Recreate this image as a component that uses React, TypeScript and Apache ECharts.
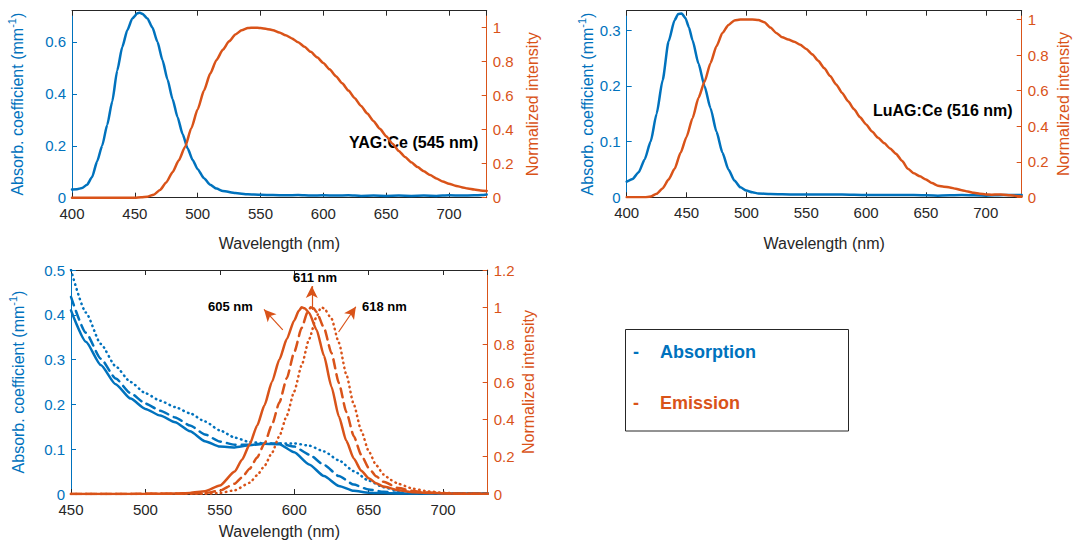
import React, { useEffect, useRef } from "react";
import * as echarts from "echarts";

const BLUE = "#0072BD";
const ORANGE = "#D95319";
const AX = "#262626";
const FONT = "'Liberation Sans', Arial, Helvetica, sans-serif";

// ---------- YAG:Ce (top left) ----------
const yagAbsWl = [400, 404, 408, 412, 416, 420, 424, 428, 432, 436, 440, 444, 448, 452, 454, 456, 460, 464, 468, 472, 476, 480, 484, 488, 492, 496, 500, 505, 510, 515, 520, 530, 540, 550, 560, 570, 580, 590, 600, 610, 620, 630, 640, 650, 660, 670, 680, 690, 700, 710, 720, 726, 730];
const yagAbs = [0.032, 0.033, 0.037, 0.05, 0.08, 0.14, 0.2, 0.28, 0.37, 0.49, 0.58, 0.645, 0.69, 0.71, 0.712, 0.708, 0.69, 0.655, 0.6, 0.53, 0.455, 0.38, 0.31, 0.245, 0.19, 0.145, 0.11, 0.075, 0.05, 0.035, 0.026, 0.018, 0.013, 0.011, 0.01, 0.009, 0.01, 0.008, 0.009, 0.008, 0.009, 0.007, 0.008, 0.007, 0.008, 0.007, 0.008, 0.007, 0.009, 0.008, 0.009, 0.01, 0.012];
const yagEmWl = [400, 450, 455, 460, 465, 470, 475, 480, 485, 490, 495, 500, 505, 510, 515, 520, 525, 530, 535, 540, 545, 550, 555, 560, 565, 570, 575, 580, 585, 590, 595, 600, 605, 610, 615, 620, 625, 630, 635, 640, 645, 650, 655, 660, 665, 670, 675, 680, 685, 690, 695, 700, 705, 710, 715, 720, 725, 730];
const yagEm = [0, 0, 0.002, 0.006, 0.018, 0.045, 0.09, 0.15, 0.22, 0.3, 0.41, 0.52, 0.63, 0.73, 0.81, 0.87, 0.92, 0.96, 0.985, 0.998, 1.0, 0.998, 0.993, 0.985, 0.972, 0.956, 0.937, 0.914, 0.888, 0.858, 0.826, 0.792, 0.755, 0.715, 0.673, 0.63, 0.585, 0.54, 0.495, 0.45, 0.405, 0.362, 0.318, 0.275, 0.24, 0.208, 0.18, 0.155, 0.133, 0.113, 0.095, 0.082, 0.071, 0.062, 0.054, 0.048, 0.043, 0.04];

// ---------- LuAG:Ce (top right) ----------
const luAbsWl = [400, 405, 410, 415, 420, 425, 430, 435, 440, 443, 446, 449, 452, 455, 460, 465, 470, 475, 480, 485, 490, 495, 500, 505, 510, 520, 540, 560, 580, 600, 620, 640, 660, 680, 700, 715, 730];
const luAbs = [0.028, 0.033, 0.045, 0.068, 0.1, 0.15, 0.21, 0.28, 0.318, 0.329, 0.33, 0.322, 0.305, 0.282, 0.24, 0.2, 0.16, 0.118, 0.08, 0.05, 0.03, 0.018, 0.012, 0.009, 0.007, 0.006, 0.005, 0.005, 0.005, 0.004, 0.004, 0.004, 0.003, 0.004, 0.003, 0.004, 0.004];
const luEmWl = [400, 415, 420, 425, 430, 435, 440, 445, 450, 455, 460, 465, 470, 475, 480, 485, 490, 495, 505, 510, 515, 520, 525, 530, 535, 540, 545, 550, 555, 560, 565, 570, 575, 580, 585, 590, 595, 600, 605, 610, 615, 620, 625, 630, 635, 640, 645, 650, 655, 660, 665, 670, 675, 680, 685, 690, 695, 700, 705, 710, 715, 720, 725, 730];
const luEm = [0, 0, 0.004, 0.02, 0.05, 0.1, 0.16, 0.25, 0.34, 0.445, 0.56, 0.65, 0.755, 0.85, 0.925, 0.97, 0.995, 1.0, 1.0, 0.998, 0.985, 0.955, 0.925, 0.9, 0.888, 0.875, 0.858, 0.835, 0.805, 0.768, 0.727, 0.682, 0.635, 0.587, 0.54, 0.495, 0.45, 0.41, 0.37, 0.335, 0.305, 0.275, 0.245, 0.205, 0.16, 0.135, 0.118, 0.1, 0.08, 0.065, 0.06, 0.055, 0.048, 0.04, 0.032, 0.025, 0.02, 0.016, 0.015, 0.016, 0.015, 0.012, 0.008, 0.004];

// ---------- Red phosphors (bottom) ----------
const redAbsWl = [450, 460, 470, 480, 490, 500, 510, 520, 530, 540, 550, 560, 570, 580, 590, 600, 610, 620, 630, 640, 650, 660, 670, 680, 690, 700, 710, 720, 730];
const absSolid = [0.41, 0.34, 0.288, 0.245, 0.213, 0.19, 0.175, 0.16, 0.14, 0.118, 0.106, 0.104, 0.109, 0.112, 0.111, 0.093, 0.066, 0.04, 0.018, 0.007, 0.003, 0.002, 0.001, 0.001, 0.001, 0.001, 0.001, 0.001, 0.001];
const absDashed = [0.44, 0.36, 0.302, 0.258, 0.225, 0.202, 0.186, 0.171, 0.153, 0.133, 0.117, 0.11, 0.11, 0.113, 0.113, 0.106, 0.088, 0.065, 0.04, 0.021, 0.01, 0.005, 0.003, 0.002, 0.001, 0.001, 0.001, 0.001, 0.001];
const absDotted = [0.5, 0.405, 0.335, 0.285, 0.25, 0.225, 0.208, 0.194, 0.18, 0.162, 0.142, 0.126, 0.116, 0.113, 0.113, 0.113, 0.108, 0.095, 0.075, 0.051, 0.03, 0.015, 0.007, 0.003, 0.002, 0.001, 0.001, 0.001, 0.001];

const em605Wl = [450, 500, 520, 530, 540, 550, 560, 565, 570, 575, 580, 585, 590, 595, 600, 603, 605, 607, 610, 615, 620, 625, 630, 635, 640, 645, 650, 655, 660, 670, 680, 690, 700, 710, 730];
const em605 = [0, 0.001, 0.003, 0.006, 0.015, 0.045, 0.12, 0.185, 0.265, 0.365, 0.475, 0.6, 0.72, 0.83, 0.93, 0.98, 1.0, 0.995, 0.97, 0.88, 0.74, 0.575, 0.415, 0.285, 0.19, 0.125, 0.085, 0.058, 0.04, 0.02, 0.01, 0.006, 0.004, 0.002, 0.001];
const em611Wl = [450, 520, 540, 550, 560, 565, 570, 575, 580, 585, 590, 595, 600, 605, 609, 611, 613, 615, 620, 625, 630, 635, 640, 645, 650, 655, 660, 670, 680, 690, 700, 710, 730];
const em611 = [0, 0.001, 0.005, 0.018, 0.055, 0.09, 0.135, 0.195, 0.27, 0.37, 0.49, 0.62, 0.76, 0.89, 0.975, 1.0, 0.995, 0.975, 0.89, 0.755, 0.595, 0.44, 0.31, 0.21, 0.14, 0.095, 0.065, 0.032, 0.016, 0.008, 0.004, 0.002, 0.001];
const em618Wl = [450, 540, 550, 560, 570, 575, 580, 585, 590, 595, 600, 605, 610, 615, 618, 620, 625, 630, 635, 640, 645, 650, 655, 660, 665, 670, 680, 690, 700, 710, 730];
const em618 = [0, 0.001, 0.005, 0.02, 0.06, 0.1, 0.15, 0.22, 0.31, 0.42, 0.55, 0.69, 0.83, 0.95, 1.0, 0.995, 0.94, 0.81, 0.64, 0.48, 0.34, 0.23, 0.155, 0.105, 0.075, 0.054, 0.028, 0.014, 0.007, 0.003, 0.001];

// peak arrows (data coordinates on the normalized-intensity axis)
const arrowFrom = [[592.3, 0.879], [611.8, 0.986], [629.8, 0.868]];
const arrowTo = [[579.7, 0.989], [611.8, 1.114], [641.4, 1.003]];
const peakLabels = ["605 nm", "611 nm", "618 nm"];
const sampleLabels = ["YAG:Ce (545 nm)", "LuAG:Ce (516 nm)"];
const legendLabels = ["Absorption", "Emission"];

const pairs = (xs: number[], ys: number[]) => xs.map((x, i) => [x, ys[i]]);

const absName = "{a|Absorb. coefficient (mm}{s|-1}{a|)}";

function xAxes(grid: number, min: number, max: number, nameGap: number) {
  return [
    {
      type: "value", gridIndex: grid, min, max, interval: 50, position: "bottom",
      axisLine: { show: true, onZero: false, lineStyle: { color: AX, width: 1 } },
      axisTick: { show: true, inside: true, length: 5, lineStyle: { color: AX } },
      axisLabel: { color: AX, fontSize: 15, fontFamily: FONT, margin: 8, showMaxLabel: false },
      splitLine: { show: false },
      name: "Wavelength (nm)", nameLocation: "middle", nameGap, nameMoveOverlap: false,
      nameTextStyle: { color: AX, fontSize: 16, fontFamily: FONT },
    },
    {
      type: "value", gridIndex: grid, min, max, interval: 50, position: "top",
      axisLine: { show: true, onZero: false, lineStyle: { color: AX, width: 1 } },
      axisTick: { show: true, inside: true, length: 5, lineStyle: { color: AX } },
      axisLabel: { show: false },
      splitLine: { show: false },
    },
  ];
}

function yAxes(grid: number, lmax: number, lint: number, rmax: number, rint: number,
  lGap: number, rGap: number, showMaxL: boolean, showMaxR: boolean) {
  return [
    {
      type: "value", gridIndex: grid, min: 0, max: lmax, interval: lint, position: "left",
      axisLine: { show: true, onZero: false, lineStyle: { color: BLUE, width: 1 } },
      axisTick: { show: true, inside: true, length: 5, lineStyle: { color: BLUE } },
      axisLabel: { color: BLUE, fontSize: 15, fontFamily: FONT, margin: 6, showMaxLabel: showMaxL },
      splitLine: { show: false },
      name: absName, nameLocation: "middle", nameGap: lGap, nameMoveOverlap: false,
      nameTextStyle: {
        color: BLUE, fontSize: 16, fontFamily: FONT,
        rich: {
          a: { color: BLUE, fontSize: 16, fontFamily: FONT, lineHeight: 22 },
          s: { color: BLUE, fontSize: 11, fontFamily: FONT, verticalAlign: "top", lineHeight: 12 },
        },
      },
    },
    {
      type: "value", gridIndex: grid, min: 0, max: rmax, interval: rint, position: "right",
      axisLine: { show: true, onZero: false, lineStyle: { color: ORANGE, width: 1 } },
      axisTick: { show: true, inside: true, length: 5, lineStyle: { color: ORANGE } },
      axisLabel: { color: ORANGE, fontSize: 15, fontFamily: FONT, margin: 6, showMaxLabel: showMaxR },
      splitLine: { show: false },
      name: "Normalized intensity", nameLocation: "middle", nameGap: rGap,
      nameTextStyle: { color: ORANGE, fontSize: 16, fontFamily: FONT },
    },
  ];
}

function line(data: number[][], color: string, xi: number, yi: number, type: any = "solid", extra: any = {}) {
  return {
    type: "line", data, xAxisIndex: xi, yAxisIndex: yi, showSymbol: false, symbol: "none",
    smooth: 0.2, smoothMonotone: "x", clip: true, silent: true,
    lineStyle: { color, width: 2.5, type, cap: "round" },
    ...extra,
  };
}

function boldText(text: string, x: number, y: number, size: number, fill: string) {
  return {
    type: "text", x, y, silent: true,
    style: { text, fill, font: `bold ${size}px ${FONT}`, align: "left", verticalAlign: "middle" },
  };
}

export default function App() {
  const ref = useRef<HTMLDivElement>(null);
  useEffect(() => {
    const chart = echarts.init(ref.current!, null, { renderer: "svg" });
    const option: any = {
      animation: false,
      backgroundColor: "#fff",
      textStyle: { fontFamily: FONT },
      grid: [
        { left: 72, top: 10.7, width: 414.7, height: 187, outerBoundsMode: "none" },
        { left: 626.7, top: 10.7, width: 395, height: 186.6, outerBoundsMode: "none" },
        { left: 71, top: 270, width: 416.7, height: 224, outerBoundsMode: "none" },
      ],
      xAxis: [...xAxes(0, 400, 730, 38), ...xAxes(1, 400, 730, 38), ...xAxes(2, 450, 730, 29)],
      yAxis: [
        ...yAxes(0, 0.72, 0.2, 1.1, 0.2, 44, 38, false, false),
        ...yAxes(1, 0.335, 0.1, 1.05, 0.2, 28, 34, false, false),
        ...yAxes(2, 0.5, 0.1, 1.2, 0.2, 42, 33, true, true),
      ],
      series: [
        line(pairs(yagAbsWl, yagAbs), BLUE, 0, 0),
        line(pairs(yagEmWl, yagEm), ORANGE, 0, 1),
        line(pairs(luAbsWl, luAbs), BLUE, 2, 2),
        line(pairs(luEmWl, luEm), ORANGE, 2, 3),
        line(pairs(redAbsWl, absSolid), BLUE, 4, 4),
        line(pairs(redAbsWl, absDashed), BLUE, 4, 4, [9, 6]),
        line(pairs(redAbsWl, absDotted), BLUE, 4, 4, [0.5, 4.5]),
        line(pairs(em605Wl, em605), ORANGE, 4, 5, "solid", {
          markLine: {
            silent: true, symbol: ["none", "arrow"], symbolSize: [9, 12], precision: 3,
            lineStyle: { color: ORANGE, width: 1.2, type: "solid" },
            label: { show: false },
            data: arrowFrom.map((f, i) => [{ coord: f }, { coord: arrowTo[i] }]),
          },
        }),
        line(pairs(em611Wl, em611), ORANGE, 4, 5, [9, 6]),
        line(pairs(em618Wl, em618), ORANGE, 4, 5, [0.5, 4.5]),
      ],
      graphic: [
        boldText(sampleLabels[0], 349, 142, 16, "#000"),
        boldText(sampleLabels[1], 873, 110, 16, "#000"),
        boldText(peakLabels[0], 208, 306, 13, "#000"),
        boldText(peakLabels[1], 293, 277, 13, "#000"),
        boldText(peakLabels[2], 362, 306, 13, "#000"),
        {
          type: "rect", silent: true,
          shape: { x: 625.5, y: 329.5, width: 223, height: 101.5 },
          style: { fill: "#fff", stroke: AX, lineWidth: 1 },
        },
        boldText("-", 633, 352, 18, BLUE),
        boldText(legendLabels[0], 660, 352, 18, BLUE),
        boldText("-", 633, 403, 18, ORANGE),
        boldText(legendLabels[1], 660, 403, 18, ORANGE),
      ],
    };
    chart.setOption(option);
    return () => chart.dispose();
  }, []);
  return (
    <div
      ref={ref}
      style={{ position: "absolute", left: 0, top: 0, width: 1074, height: 540 }}
    />
  );
}
